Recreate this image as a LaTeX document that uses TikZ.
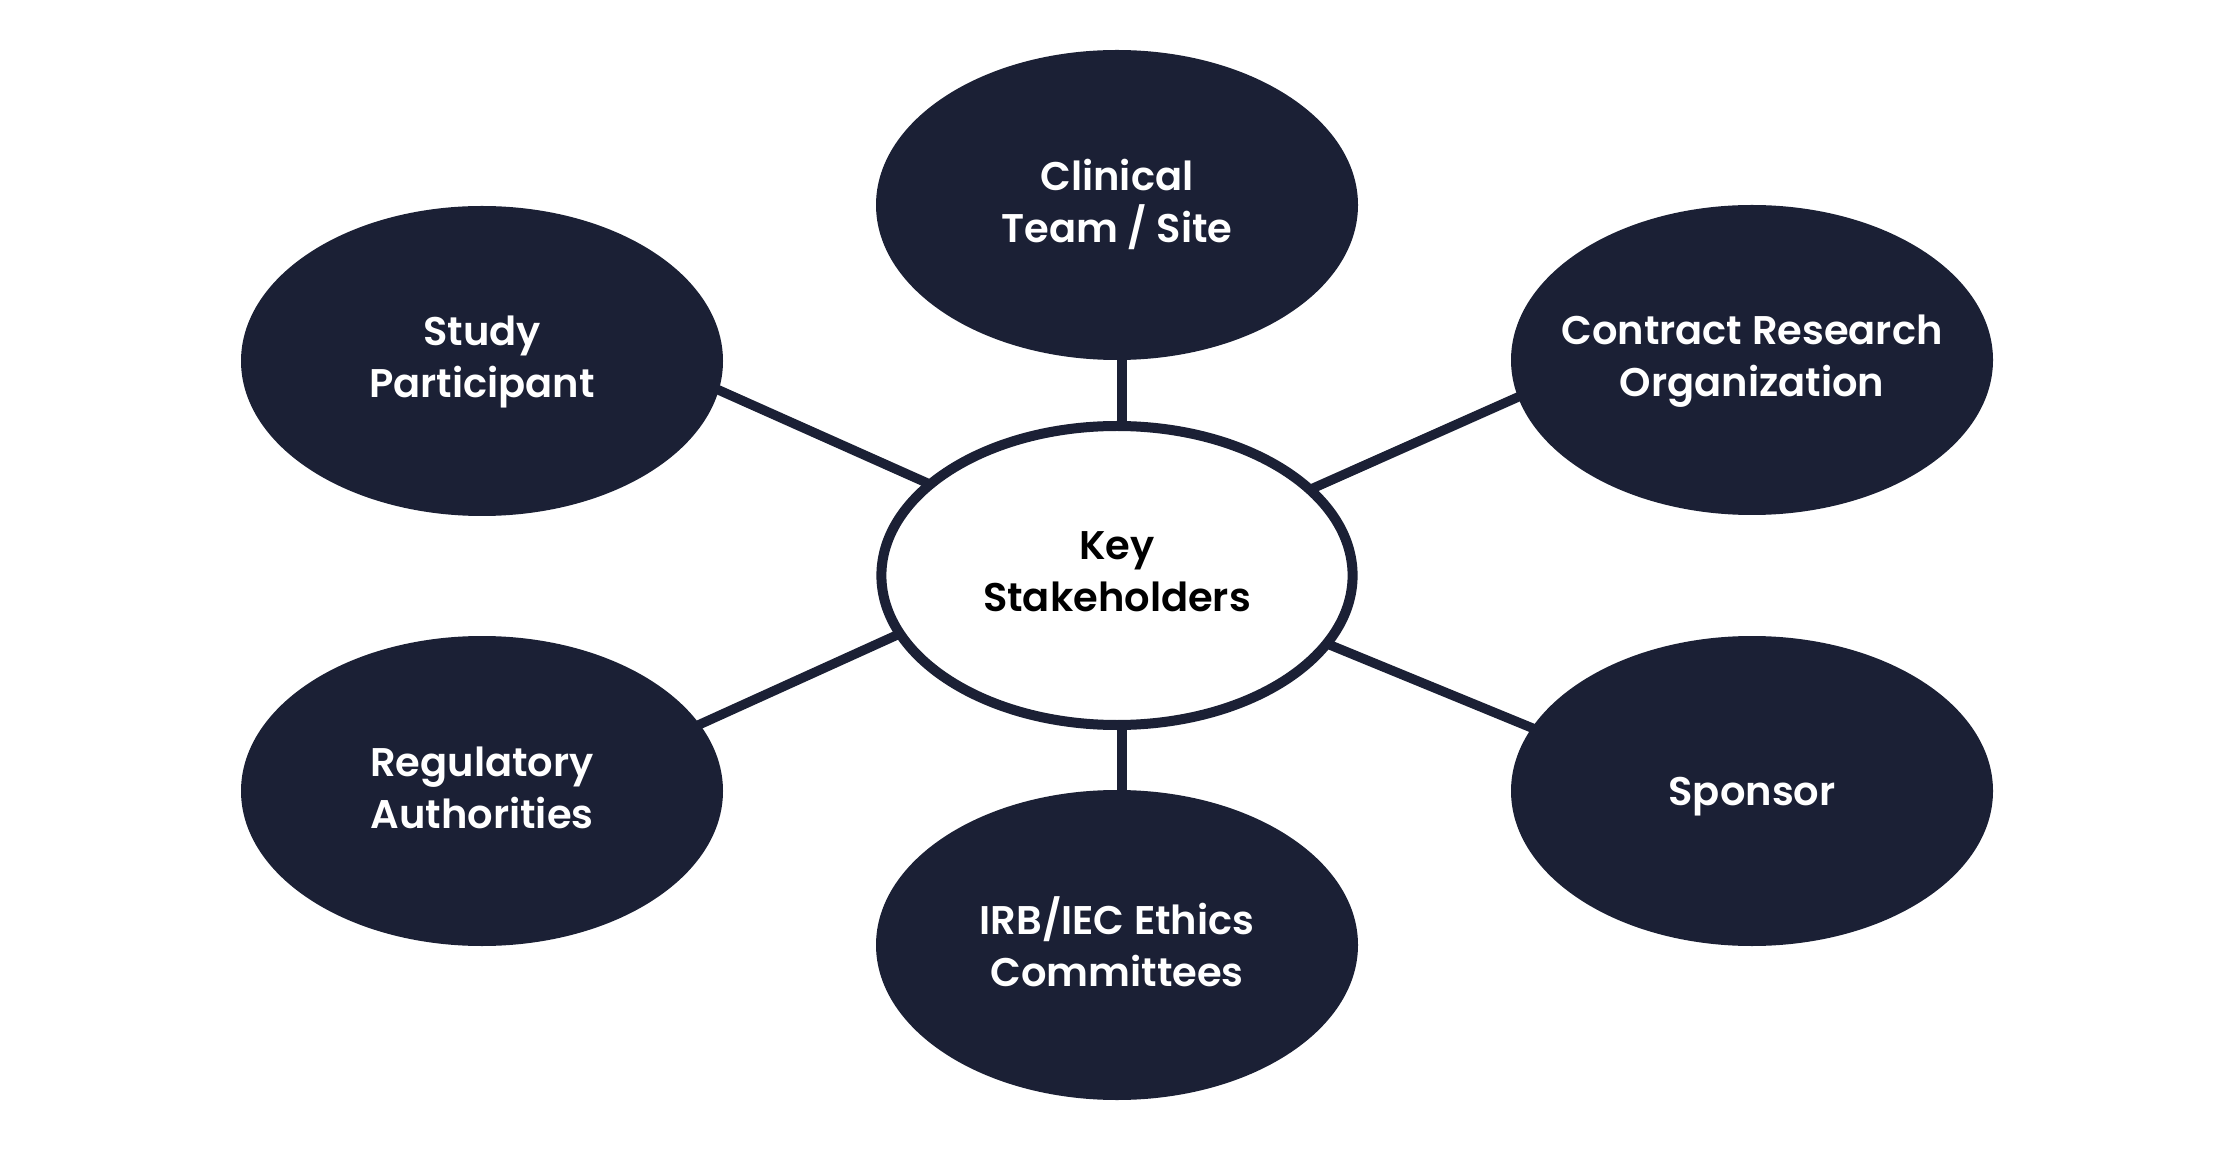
\documentclass[tikz,border=0pt]{standalone}
\usepackage{fontspec}
\setmainfont{Poppins}[BoldFont={Poppins SemiBold}]
\usetikzlibrary{shapes.geometric,backgrounds}
\definecolor{navy}{RGB}{27,32,53}
\tikzset{
  blob/.style={ellipse, fill=navy, draw=none, minimum width=241pt, minimum height=155pt, inner sep=0pt, outer sep=0pt},
  hub/.style={ellipse, fill=white, draw=navy, line width=5pt, minimum width=235.6pt, minimum height=149.5pt, inner sep=0pt, outer sep=0pt},
  lbl/.style={align=center, font=\fontsize{20}{26}\selectfont\bfseries, inner sep=0pt, yshift=-2pt,
    execute at begin node=\strut, execute at end node=\strut},
  wlbl/.style={lbl, text=white},
  klbl/.style={lbl, text=black},
  link/.style={draw=navy, line width=4.75pt, shorten <=-3pt, shorten >=-3pt}
}
\begin{document}
\begin{tikzpicture}[x=0.5pt,y=-0.5pt]
\useasboundingbox (0,0) rectangle (2232,1149);
\node[hub]  (key)      at (1117,575.5) {};
\node[blob] (clinical) at (1117,205) {};
\node[blob] (study)    at (482,361)  {};
\node[blob] (cro)      at (1752,360) {};
\node[blob] (reg)      at (482,791)  {};
\node[blob] (sponsor)  at (1752,791) {};
\node[blob] (irb)      at (1117,945) {};
\node[klbl] (key-t)      at (key)      {Key\\Stakeholders};
\node[wlbl] (clinical-t) at (clinical) {Clinical\\Team / Site};
\node[wlbl] (study-t)    at (study)    {Study\\Participant};
\node[wlbl] (cro-t)      at (cro)      {Contract Research\\Organization};
\node[wlbl] (reg-t)      at (reg)      {Regulatory\\Authorities};
\node[wlbl] (sponsor-t)  at (sponsor)  {Sponsor};
\node[wlbl] (irb-t)      at (irb)      {IRB/IEC Ethics\\Committees};
\begin{scope}[on background layer]
\draw[link] ([xshift=2.5pt]key.90)  -- ([xshift=2.5pt]clinical.270);
\draw[link] ([xshift=2.5pt]key.270) -- ([xshift=2.5pt]irb.90);
\draw[link] (key.154.2) -- (study.-7.4);
\draw[link] (key.24.1)  -- (cro.189.7);
\draw[link] (key.195.4) -- (reg.17.6);
\draw[link] (key.-18)   -- (sponsor.164.9);
\end{scope}
\end{tikzpicture}
\end{document}
